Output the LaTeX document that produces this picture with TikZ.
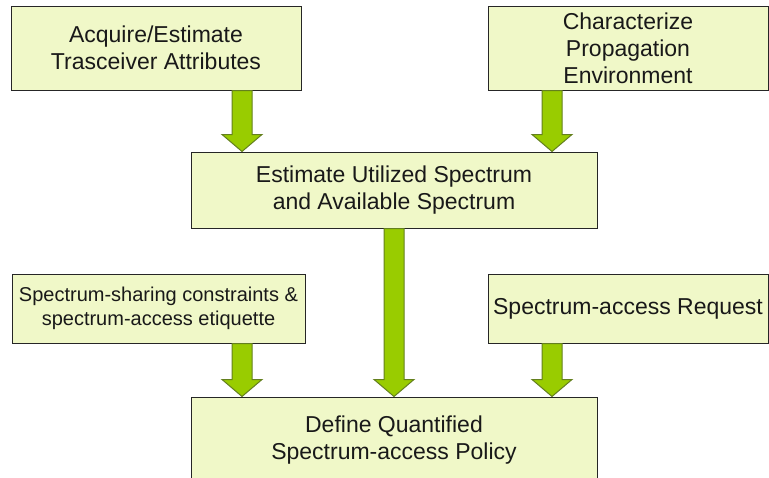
\documentclass[tikz,border=0pt]{standalone}
\usepackage{fontspec}
\setmainfont{Liberation Sans}
\usetikzlibrary{calc}
\definecolor{boxfill}{RGB}{240,248,200}
\definecolor{arrowfill}{RGB}{153,204,0}
\definecolor{arrowline}{RGB}{100,128,30}

\tikzset{
  box/.style={draw=black!85, line width=1pt, fill=boxfill, text=black!90,
    align=center, inner sep=0pt, font=\fontsize{23}{27}\selectfont},
  fat arrow/.style={draw=arrowline, fill=arrowfill, line width=1pt, to path={
    let \p1=(\tikztostart), \p2=(\tikztotarget) in
    (\x1-10pt,\y1) -- (\x1-10pt,\y2+17pt) -- (\x1-20pt,\y2+17pt) -- (\x2,\y2)
    -- (\x1+20pt,\y2+17pt) -- (\x1+10pt,\y2+17pt) -- (\x1+10pt,\y1) -- cycle}}
}

\begin{document}
\begin{tikzpicture}[x=1pt, y=-1pt]
  \useasboundingbox (0,0) rectangle (769,477);
  \clip (0,0) rectangle (769,477);

  \node[box, minimum width=290pt, minimum height=84pt] (acquire) at (156,48)
    {Acquire/Estimate\\Trasceiver Attributes};
  \node[box, minimum width=280pt, minimum height=84pt] (propag) at (628,48)
    {Characterize\\Propagation\\Environment};
  \node[box, minimum width=406pt, minimum height=76pt] (estimate) at (394,190)
    {Estimate Utilized Spectrum\\and Available Spectrum};
  \node[box, font=\fontsize{20}{24}\selectfont, minimum width=293pt, minimum height=69pt]
    (sharing) at (158.5,308.5) {Spectrum-sharing constraints \&\\spectrum-access etiquette};
  \node[box, minimum width=280pt, minimum height=69pt] (request) at (628,308.5)
    {Spectrum-access Request};
  % bottom box runs off the page
  \node[box, minimum width=406pt, minimum height=86pt] (policy) at (394,440)
    {Define Quantified\\Spectrum-access Policy};

  \coordinate (lcol) at (242,0);
  \coordinate (rcol) at (552,0);

  \draw[fat arrow] (acquire.south -| lcol) to (estimate.north -| lcol);
  \draw[fat arrow] (propag.south -| rcol) to (estimate.north -| rcol);
  \draw[fat arrow] (estimate.south) to (policy.north);
  \draw[fat arrow] (sharing.south -| lcol) to (policy.north -| lcol);
  \draw[fat arrow] (request.south -| rcol) to (policy.north -| rcol);
\end{tikzpicture}
\end{document}
